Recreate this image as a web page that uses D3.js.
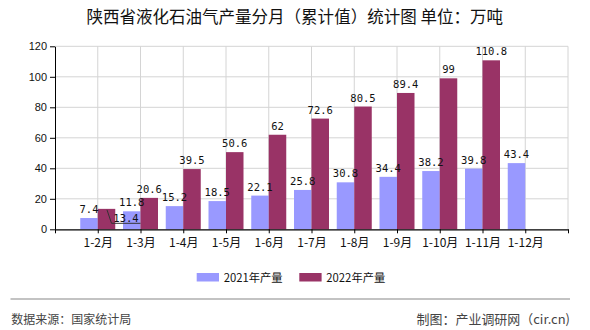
<!DOCTYPE html>
<html><head><meta charset="utf-8">
<script src="https://cdn.jsdelivr.net/npm/d3@7"></script>
<style>body{margin:0;background:#fff}svg{display:block}</style>
</head><body><svg id="c" width="590" height="330"></svg>
<script>
const categories = ["1-2月","1-3月","1-4月","1-5月","1-6月","1-7月","1-8月","1-9月","1-10月","1-11月","1-12月"];
const values2021 = [7.4,11.8,15.2,18.5,22.1,25.8,30.8,34.4,38.2,39.8,43.4];
const values2022 = [13.4,20.6,39.5,50.6,62,72.6,80.5,89.4,99,110.8,null];
const seriesNames = ["2021年产量","2022年产量"];
const yTicks = [0,20,40,60,80,100,120];
const titleText = "陕西省液化石油气产量分月（累计值）统计图 单位：万吨";
const sourceText = "数据来源：国家统计局";
const creditText = "制图：产业调研网（cir.cn)";

const colors = ["#9999ff","#993366"];
const svg = d3.select("#c");
const L=55, R=568, T=46.3, B=229.3;
const x = d3.scaleLinear().domain([0, categories.length+1]).range([L,R]);
const y = d3.scaleLinear().domain([0,120]).range([B,T]);
const bw = 17.5;
const cjk = "'Noto Sans CJK SC','Noto Sans',sans-serif";
const mono = "'DejaVu Sans Mono','Liberation Mono',monospace";

function fit(sel, w, base){
  const len = sel.node().getComputedTextLength();
  if (len > 0) sel.attr("font-size", base * w / len);
  return sel;
}

fit(svg.append("text").attr("x",294.7).attr("y",23).attr("text-anchor","middle")
  .attr("font-family",cjk).attr("font-size",15.5).attr("fill","#111").text(titleText), 417, 15.5);

// grid
const g = svg.append("g");
g.selectAll(".hg").data(yTicks.filter(d=>d>0)).join("line")
  .attr("x1",L).attr("x2",R).attr("y1",d=>y(d)).attr("y2",d=>y(d))
  .attr("stroke","#d4d4d4").attr("stroke-width",1);
g.selectAll(".vg").data(d3.range(1,categories.length+2)).join("line")
  .attr("x1",d=>x(d)).attr("x2",d=>x(d)).attr("y1",T).attr("y2",B)
  .attr("stroke","#d4d4d4").attr("stroke-width",1);

// bars
[values2021, values2022].forEach((vals,si)=>{
  svg.append("g").selectAll("rect").data(vals.map((v,i)=>({v,i})).filter(d=>d.v!=null)).join("rect")
    .attr("x",d=>x(d.i+1)+(si===0?-bw:0)).attr("width",bw)
    .attr("y",d=>y(d.v)).attr("height",d=>B-y(d.v)).attr("fill",colors[si]);
});

// labels
[values2021, values2022].forEach((vals,si)=>{
  svg.append("g").selectAll("text").data(vals.map((v,i)=>({v,i})).filter(d=>d.v!=null)).join("text")
    .attr("x",d=>{ const cx = x(d.i+1)+(si===0?-bw/2:bw/2); return (si===1&&d.i===0)? cx+19.5 : cx; })
    .attr("y",d=> (si===1&&d.i===0)? B-7.5 : y(d.v)-5)
    .attr("text-anchor","middle").attr("font-family",mono).attr("font-size",10.5).attr("fill","#111")
    .text(d=>String(d.v));
});
// leader line for displaced label
svg.append("polyline")
  .attr("points",[[x(1)+bw/2+0.5,y(values2022[0])+1],[x(1)+bw/2+5,B-6],[x(2),B-6]].map(p=>p.join(",")).join(" "))
  .attr("fill","none").attr("stroke","#333").attr("stroke-width",1);

// axes
const ya = svg.append("g").attr("transform",`translate(${L},0)`)
  .call(d3.axisLeft(y).tickValues(yTicks).tickSize(5).tickSizeOuter(0));
ya.select(".domain").attr("stroke","#000");
ya.selectAll("text").attr("font-family","'Liberation Sans',Arial,sans-serif").attr("font-size",11).attr("fill","#111");
const xa = svg.append("g").attr("transform",`translate(0,${B})`)
  .call(d3.axisBottom(x).tickValues(d3.range(0,categories.length+2)).tickSize(4).tickSizeOuter(0).tickFormat(d=>categories[d-1]||""));
xa.select(".domain").attr("stroke","#000").attr("stroke-width",1.3);
xa.selectAll("text").attr("font-family",cjk).attr("font-size",12).attr("fill","#111").attr("dy","0.9em");

// legend
const lg = svg.append("g");
const lx = [196.7,299.3];
seriesNames.forEach((n,i)=>{
  lg.append("rect").attr("x",lx[i]).attr("y",273).attr("width",22.3).attr("height",8.5).attr("fill",colors[i]);
  fit(lg.append("text").attr("x",lx[i]+27).attr("y",282).attr("font-family",cjk).attr("font-size",12).attr("fill","#111").text(n), 59, 12);
});

// footer
svg.append("line").attr("x1",10.5).attr("x2",570).attr("y1",299).attr("y2",299).attr("stroke","#888").attr("stroke-width",1.2);
fit(svg.append("text").attr("x",11.3).attr("y",323.5).attr("font-family",cjk).attr("font-size",12).attr("fill","#444").text(sourceText), 120, 12);
fit(svg.append("text").attr("x",570).attr("y",323.5).attr("text-anchor","end").attr("font-family",cjk).attr("font-size",12).attr("fill","#444").text(creditText), 153.5, 12);
</script></body></html>
